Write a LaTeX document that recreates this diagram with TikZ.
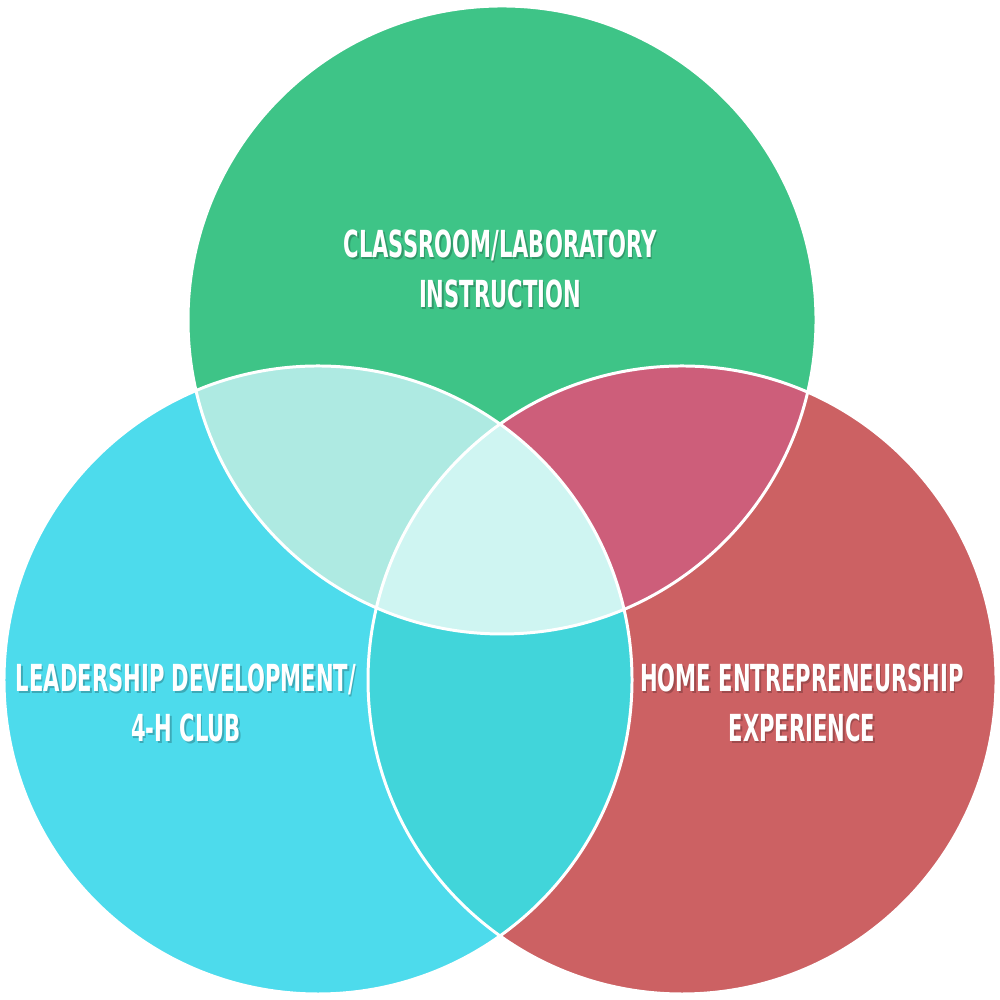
\documentclass[tikz,border=0pt]{standalone}
\usepackage{fontspec}
\newfontfamily\vennfont{DejaVu Sans Condensed}[FakeStretch=0.63]
\definecolor{classgreen}{RGB}{62,196,135}
\definecolor{leadcyan}{RGB}{77,219,236}
\definecolor{homered}{RGB}{204,97,99}
\definecolor{classlead}{RGB}{174,234,226}
\definecolor{classhome}{RGB}{205,94,122}
\definecolor{leadhome}{RGB}{65,213,218}
\definecolor{allthree}{RGB}{207,245,242}
\def\vennr{3.14}
\tikzset{
venn label/.style=
    {text=white,
    font=\vennfont\bfseries\fontsize{10.6}{14.2}\selectfont,
    align=center,
    inner sep=0pt
    },
venn shadow/.style=
    {venn label,
    text=black,
    text opacity=0.22
    },
venn edge/.style=
    {draw=white,
    line width=0.85pt
    }}
\newcommand\vennlabel[3]{%
  \node[venn shadow] at ([shift={(0.015,-0.02)}]#2) {#3};
  \node[venn label] (#1) at (#2) {#3};}

\begin{document}
\begin{tikzpicture}[]
\useasboundingbox (0,0) rectangle (10,10);
\coordinate (class) at (5.02,6.80);
\coordinate (lead) at (3.18,3.20);
\coordinate (home) at (6.82,3.20);
% the three circles
\fill[classgreen] (class) circle (\vennr);
\fill[leadcyan] (lead) circle (\vennr);
\fill[homered] (home) circle (\vennr);
% overlaps
\begin{scope}
\clip (lead) circle (\vennr);
\fill[leadhome] (home) circle (\vennr);
\end{scope}
\begin{scope}
\clip (class) circle (\vennr);
\fill[classlead] (lead) circle (\vennr);
\fill[classhome] (home) circle (\vennr);
\clip (lead) circle (\vennr);
\fill[allthree] (home) circle (\vennr);
\end{scope}
\foreach \c in {class,lead,home}
    \draw[venn edge] (\c) circle (\vennr);
% labels
\vennlabel{classtext}{5.00,7.31}{CLASSROOM/LABORATORY\\INSTRUCTION}
\vennlabel{leadtext}{1.86,2.97}{LEADERSHIP DEVELOPMENT/\\4-H CLUB}
\vennlabel{hometext}{8.02,2.97}{HOME ENTREPRENEURSHIP\\EXPERIENCE}
\end{tikzpicture}
\end{document}
